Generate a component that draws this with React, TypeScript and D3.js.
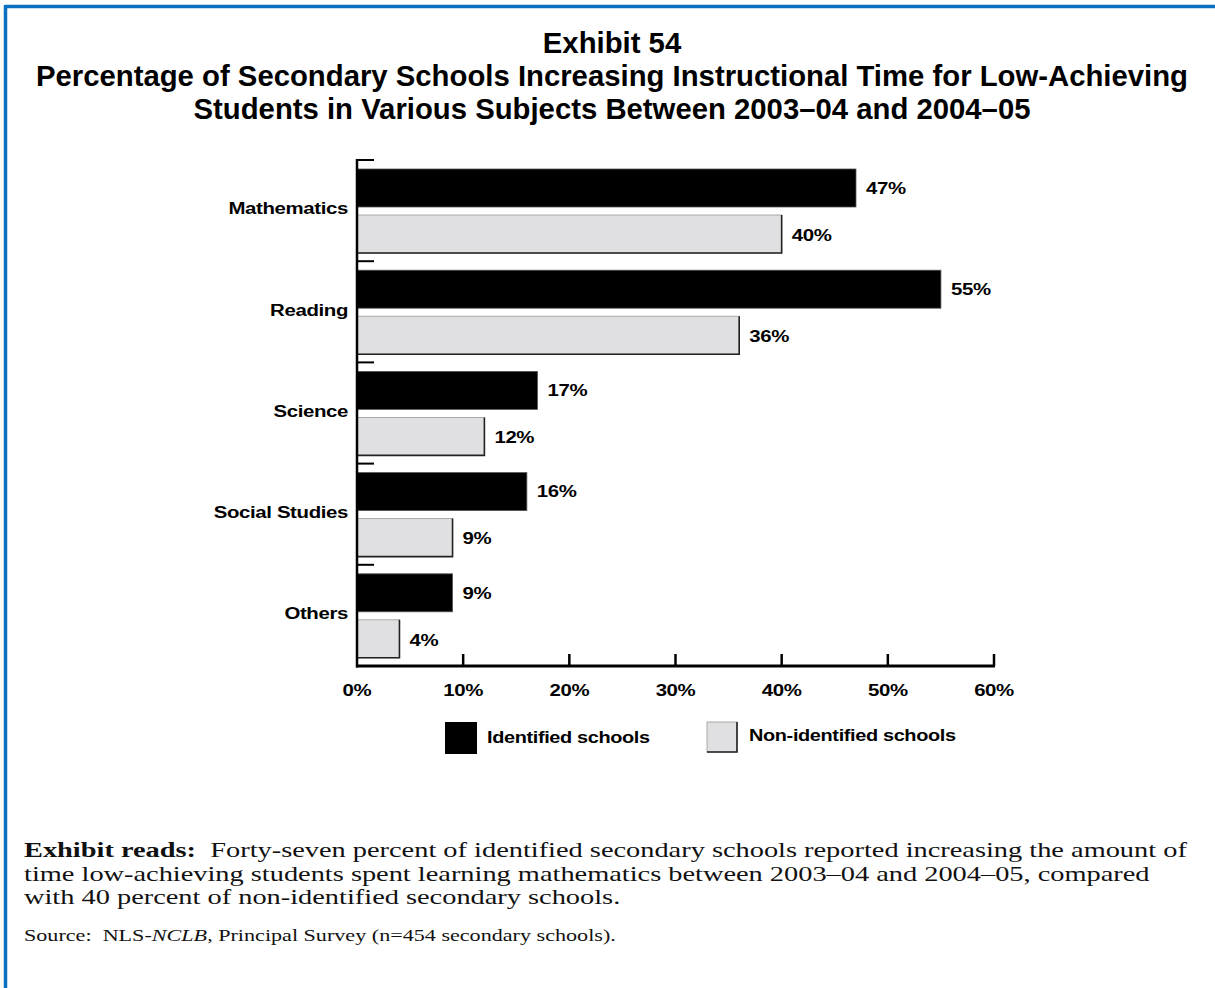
import React from "react";
import * as d3 from "d3";

const categories = ["Mathematics", "Reading", "Science", "Social Studies", "Others"];
const seriesNames = ["Identified schools", "Non-identified schools"];
const identified = [47, 55, 17, 16, 9];
const nonIdentified = [40, 36, 12, 9, 4];
const xTicks = [0, 10, 20, 30, 40, 50, 60];

const titleLines = [
  "Exhibit 54",
  "Percentage of Secondary Schools Increasing Instructional Time for Low-Achieving",
  "Students in Various Subjects Between 2003\u201304 and 2004\u201305",
];
const noteLines = [
  "Forty-seven percent of identified secondary schools reported increasing the amount of",
  "time low-achieving students spent learning mathematics between 2003\u201304 and 2004\u201305, compared",
  "with 40 percent of non-identified secondary schools.",
];

const W = 1215;
const H = 988;
const sans = "Arial, 'Liberation Sans', Helvetica, sans-serif";
const serif = "'Liberation Serif', 'Times New Roman', serif";
const BLUE = "#0b6fc0";
const GRAY = "#e0e0e2";

type LabelProps = {
  x: number;
  y: number;
  anchor?: "start" | "middle" | "end";
  sx?: number;
  size?: number;
  children: React.ReactNode;
};

function Lbl({ x, y, anchor = "start", sx = 1.2, size = 17, children }: LabelProps) {
  return (
    <text
      transform={`translate(${x},${y}) scale(${sx},1)`}
      textAnchor={anchor}
      dominantBaseline="central"
      fontFamily={sans}
      fontWeight="bold"
      fontSize={size}
      letterSpacing={-0.3}
      fill="#000"
    >
      {children}
    </text>
  );
}

export default function App() {
  const x = d3.scaleLinear().domain([0, 60]).range([357, 994]);
  const y = d3.scaleBand<string>().domain(categories).range([160, 666]);
  const inner = d3
    .scaleBand<string>()
    .domain(seriesNames)
    .range([9, 93])
    .paddingInner(8 / 46);
  const bw = inner.bandwidth();
  const axisY = 666;
  const noteScale = 1.29;

  return (
    <svg
      width={W}
      height={H}
      style={{ position: "absolute", left: 0, top: 0, background: "#fff" }}
    >
      <rect x={0} y={0} width={W} height={H} fill="#fff" />
      {/* blue frame */}
      <line x1={5} y1={6.5} x2={W} y2={6.5} stroke={BLUE} strokeWidth={3.5} />
      <line x1={5.5} y1={5} x2={5.5} y2={H} stroke={BLUE} strokeWidth={3.5} />

      {/* title */}
      {titleLines.map((t, i) => (
        <text
          key={i}
          x={612}
          y={53 + i * 33}
          textAnchor="middle"
          fontFamily={sans}
          fontWeight="bold"
          fontSize={29.3}
          fill="#000"
        >
          {t}
        </text>
      ))}

      {/* bars */}
      {categories.map((c, i) => {
        const y0 = y(c)!;
        const yi = y0 + inner(seriesNames[0])!;
        const yn = y0 + inner(seriesNames[1])!;
        const xi = x(identified[i]);
        const xn = x(nonIdentified[i]);
        return (
          <g key={c}>
            <rect
              x={x(0)}
              y={yi}
              width={xi - x(0)}
              height={bw}
              fill="#000"
              stroke="#555"
              strokeWidth={0.8}
            />
            <rect
              x={x(0)}
              y={yn}
              width={xn - x(0)}
              height={bw}
              fill={GRAY}
              stroke="#9a9a9a"
              strokeWidth={0.8}
            />
            <path
              d={`M${xn},${yn} L${xn},${yn + bw} L${x(0)},${yn + bw}`}
              fill="none"
              stroke="#222"
              strokeWidth={1.6}
            />
            <Lbl x={xi + 10} y={yi + bw / 2}>{identified[i]}%</Lbl>
            <Lbl x={xn + 10} y={yn + bw / 2 + 1}>{nonIdentified[i]}%</Lbl>
            {/* category tick */}
            <line x1={x(0)} x2={x(0) + 17} y1={y0} y2={y0} stroke="#000" strokeWidth={2} />
            <Lbl x={348} y={y0 + y.bandwidth() / 2 - 2} anchor="end">
              {c}
            </Lbl>
          </g>
        );
      })}

      {/* axes */}
      <line x1={x(0)} x2={x(0)} y1={159} y2={axisY + 1.5} stroke="#000" strokeWidth={2.5} />
      <line x1={x(0) - 1} x2={x(60) + 1} y1={axisY} y2={axisY} stroke="#000" strokeWidth={3} />
      {xTicks.map((t) => (
        <g key={t}>
          {t > 0 && (
            <line x1={x(t)} x2={x(t)} y1={654} y2={axisY} stroke="#000" strokeWidth={2.5} />
          )}
          <Lbl x={x(t)} y={690} anchor="middle">
            {t}%
          </Lbl>
        </g>
      ))}

      {/* legend */}
      <rect x={445} y={722} width={32} height={32} fill="#000" />
      <Lbl x={487} y={737} sx={1.17}>
        {seriesNames[0]}
      </Lbl>
      <rect x={707} y={722} width={30} height={30} fill={GRAY} stroke="#9a9a9a" strokeWidth={0.8} />
      <path d="M707,752 L737,752 L737,722" fill="none" stroke="#222" strokeWidth={1.6} />
      <Lbl x={749} y={735} sx={1.17}>
        {seriesNames[1]}
      </Lbl>

      {/* notes */}
      {noteLines.map((t, i) => (
        <text
          key={i}
          transform={`translate(24,${857 + i * 23.5}) scale(${noteScale},1)`}
          fontFamily={serif}
          fontSize={22}
          fill="#111"
        >
          {i === 0 && <tspan fontWeight="bold">{"Exhibit reads:"}</tspan>}
          {i === 0 ? "\u00a0 " + t : t}
        </text>
      ))}
      <text
        transform={`translate(24,941) scale(1.265,1)`}
        fontFamily={serif}
        fontSize={17.5}
        fill="#111"
      >
        {"Source:\u00a0 NLS-"}
        <tspan fontStyle="italic">NCLB</tspan>
        {", Principal Survey (n=454 secondary schools)."}
      </text>
    </svg>
  );
}
